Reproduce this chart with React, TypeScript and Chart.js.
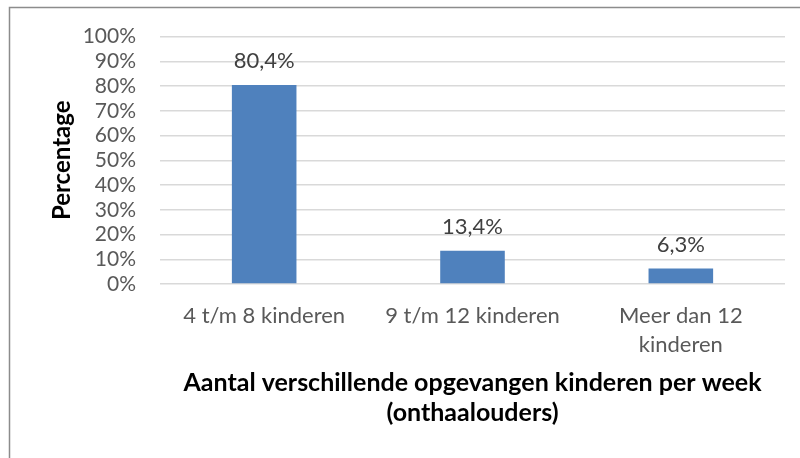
import React, { useEffect, useRef } from "react";
import { Chart, registerables } from "chart.js";

Chart.register(...registerables);

const categories: (string | string[])[] = ["4 t/m 8 kinderen", "9 t/m 12 kinderen", ["Meer dan 12", "kinderen"]];
const values: number[] = [80.4, 13.4, 6.3];
const valueLabels: string[] = ["80,4%", "13,4%", "6,3%"];
const yTicks: number[] = [0, 10, 20, 30, 40, 50, 60, 70, 80, 90, 100];
const xTitle: string[] = ["Aantal verschillende opgevangen kinderen per week", "(onthaalouders)"];
const yTitle = "Percentage";

const FONT = "Lato, 'Open Sans', sans-serif";

const framePlugin = {
  id: "frame",
  beforeDraw(chart: any) {
    const ctx = chart.ctx;
    ctx.save();
    ctx.fillStyle = "#ffffff";
    ctx.fillRect(0, 0, chart.width, chart.height);
    ctx.strokeStyle = "#8c8c8c";
    ctx.lineWidth = 1.5;
    ctx.beginPath();
    ctx.moveTo(9.5, chart.height + 2);
    ctx.lineTo(9.5, 7.5);
    ctx.lineTo(chart.width + 2, 7.5);
    ctx.stroke();
    ctx.restore();
  },
};

const labelPlugin = {
  id: "valueLabels",
  afterDatasetsDraw(chart: any) {
    const ctx = chart.ctx;
    const meta = chart.getDatasetMeta(0);
    ctx.save();
    ctx.font = `22px ${FONT}`;
    ctx.fillStyle = "#404040";
    ctx.textAlign = "center";
    ctx.textBaseline = "middle";
    meta.data.forEach((bar: any, i: number) => {
      ctx.fillText(valueLabels[i], bar.x, bar.y - 24);
    });
    ctx.restore();
  },
};

export default function App() {
  const ref = useRef<HTMLCanvasElement>(null);
  useEffect(() => {
    document.body.style.margin = "0";
    const chart = new Chart(ref.current as HTMLCanvasElement, {
      type: "bar",
      data: {
        labels: categories,
        datasets: [
          {
            data: values,
            backgroundColor: "#4F81BD",
            borderWidth: 0,
            barPercentage: 1,
            categoryPercentage: 0.31,
          },
        ],
      },
      options: {
        animation: false,
        responsive: false,
        maintainAspectRatio: false,
        layout: { padding: { left: 0, right: 15, top: 36, bottom: 0 } },
        plugins: { legend: { display: false }, tooltip: { enabled: false } },
        scales: {
          x: {
            grid: { display: false, drawTicks: false },
            border: { display: false },
            ticks: {
              color: "#595959",
              font: { family: FONT, size: 22, lineHeight: 1.32 },
              padding: 17,
              maxRotation: 0,
              autoSkip: false,
            },
            title: {
              display: true,
              text: xTitle,
              color: "#000000",
              font: { family: FONT, size: 25, weight: "bold", lineHeight: 1.2 },
              padding: { top: 0, bottom: 30 },
            },
            afterFit(scale: any) {
              scale.height = 174;
            },
          },
          y: {
            min: 0,
            max: 100,
            afterBuildTicks(scale: any) {
              scale.ticks = yTicks.map((v) => ({ value: v }));
            },
            grid: { color: "#d9d9d9", lineWidth: 1.5, drawTicks: false },
            border: { display: false },
            ticks: {
              color: "#595959",
              font: { family: FONT, size: 21 },
              padding: 24,
              autoSkip: false,
              stepSize: 10,
              callback: (v: any) => `${v}%`,
            },
            title: {
              display: true,
              text: yTitle,
              color: "#000000",
              font: { family: FONT, size: 24, weight: "bold", lineHeight: 1.2 },
              padding: { top: 48, bottom: 0 },
            },
            afterFit(scale: any) {
              scale.width = 160;
            },
          },
        },
      },
      plugins: [framePlugin, labelPlugin],
    });
    return () => chart.destroy();
  }, []);
  return (
    <div style={{ position: "absolute", left: 0, top: 0, width: 800, height: 458 }}>
      <canvas ref={ref} width={800} height={458} style={{ width: 800, height: 458 }} />
    </div>
  );
}
